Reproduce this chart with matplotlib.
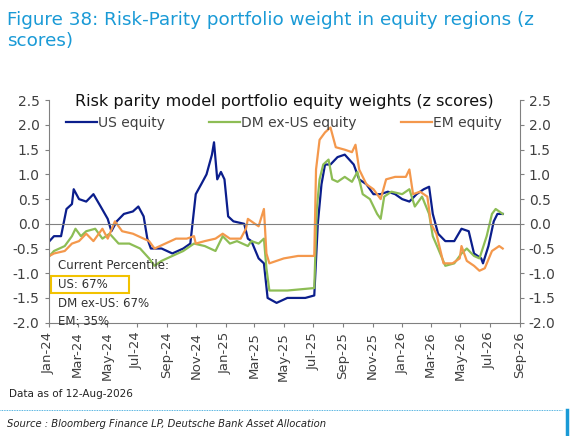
import datetime as dt

import matplotlib
matplotlib.use("Agg")
import matplotlib.pyplot as plt
import matplotlib.dates as mdates
from matplotlib.patches import Rectangle

# months since Jan-24, value
US_M = [-0.24, 0.37, 0.85, 1.22, 1.59, 1.71, 2.07, 2.56, 3.05, 3.54, 4.02, 4.27, 4.63, 5.12, 5.73,
        6.10, 6.46, 6.71, 6.95, 7.68, 8.41, 9.15, 9.63, 10.0, 10.37, 10.73, 11.1, 11.24, 11.46,
        11.71, 11.95, 12.2, 12.56, 13.29, 13.54, 13.78, 14.27, 14.63, 14.88, 15.49, 16.22, 17.44,
        18.05, 18.29, 18.54, 18.78, 19.15, 19.63, 20.12, 20.73, 21.1, 21.59, 22.07, 22.56, 23.05,
        23.54, 24.02, 24.51, 25.0, 25.49, 25.85, 26.1, 26.46, 26.95, 27.56, 28.05, 28.54, 28.9,
        29.39, 29.51, 29.88, 30.24, 30.49, 30.85]
US_V = [-0.45, -0.25, -0.25, 0.3, 0.4, 0.7, 0.5, 0.45, 0.6, 0.35, 0.1, -0.15, 0.05, 0.2, 0.25,
        0.35, 0.15, -0.3, -0.5, -0.5, -0.6, -0.5, -0.4, 0.6, 0.8, 1.0, 1.4, 1.65, 0.9,
        1.05, 0.9, 0.15, 0.05, 0.0, -0.3, -0.35, -0.7, -0.8, -1.5, -1.6, -1.5, -1.5,
        -1.45, 0.0, 0.8, 1.2, 1.2, 1.35, 1.4, 1.2, 0.9, 0.8, 0.6, 0.6, 0.65,
        0.6, 0.5, 0.45, 0.6, 0.7, 0.75, 0.2, -0.2, -0.35, -0.35, -0.1, -0.15, -0.6,
        -0.7, -0.8, -0.45, 0.05, 0.2, 0.2]

DM_M = [-0.24, 0.37, 1.1, 1.59, 1.83, 2.2, 2.56, 3.17, 3.66, 4.15, 4.76, 5.49, 6.22, 6.83, 7.2,
        7.68, 8.41, 9.15, 9.88, 10.61, 11.34, 11.83, 12.32, 12.8, 13.54, 13.78, 14.27, 14.63,
        14.8, 15.0, 16.22, 18.05, 18.22, 18.41, 18.66, 19.02, 19.27, 19.63, 20.12, 20.61, 20.98,
        21.34, 21.83, 22.32, 22.56, 22.8, 23.29, 24.02, 24.51, 24.88, 25.37, 25.85, 26.1, 26.46,
        26.95, 27.56, 28.05, 28.41, 28.9, 29.27, 29.76, 30.12, 30.37, 30.85]
DM_V = [-0.75, -0.55, -0.45, -0.25, -0.1, -0.25, -0.15, -0.1, -0.3, -0.2, -0.4, -0.4, -0.5, -0.7, -0.85,
        -0.75, -0.65, -0.55, -0.4, -0.45, -0.55, -0.25, -0.4, -0.35, -0.45, -0.35, -0.4, -0.3,
        -0.9, -1.35, -1.35, -1.3, 0.3, 0.9, 1.2, 1.3, 0.9, 0.85, 0.95, 0.85, 1.05,
        0.6, 0.5, 0.2, 0.1, 0.55, 0.65, 0.6, 0.7, 0.35, 0.55, 0.2, -0.25, -0.5,
        -0.85, -0.8, -0.6, -0.5, -0.65, -0.7, -0.25, 0.2, 0.3, 0.2]

EM_M = [-0.24, 0.37, 1.1, 1.59, 2.07, 2.56, 3.05, 3.66, 4.02, 4.51, 5.0, 5.73, 6.46, 6.83, 7.2,
        7.93, 8.66, 9.39, 9.88, 10.0, 10.61, 11.34, 11.83, 12.32, 13.05, 13.41, 13.54, 14.02,
        14.27, 14.63, 14.8, 15.0, 15.98, 16.95, 18.05, 18.17, 18.41, 18.78, 19.15, 19.51, 20.12,
        20.61, 20.85, 21.1, 21.59, 22.07, 22.56, 22.93, 23.54, 24.27, 24.51, 24.76, 25.24, 25.73,
        25.98, 26.34, 26.83, 27.44, 27.93, 28.05, 28.41, 28.9, 29.27, 29.63, 30.12, 30.61, 30.85]
EM_V = [-0.7, -0.6, -0.55, -0.4, -0.35, -0.2, -0.35, -0.1, -0.3, 0.05, -0.15, -0.2, -0.3, -0.35, -0.5,
        -0.4, -0.3, -0.3, -0.25, -0.4, -0.35, -0.3, -0.2, -0.3, -0.3, -0.1, 0.1, 0.0,
        -0.05, 0.3, -0.6, -0.8, -0.7, -0.65, -0.65, 1.1, 1.7, 1.85, 1.95, 1.55, 1.5,
        1.45, 1.6, 1.1, 0.8, 0.7, 0.5, 0.9, 0.95, 0.95, 1.1, 0.6, 0.65, 0.55,
        0.0, -0.2, -0.8, -0.8, -0.7, -0.45, -0.75, -0.85, -0.95, -0.9, -0.55, -0.45, -0.5]

BASE = dt.datetime(2024, 1, 1)


def to_dates(months):
    return [BASE + dt.timedelta(days=m * 30.44) for m in months]


fig = plt.figure(figsize=(5.71, 4.36), dpi=100)
fig.text(0.012, 0.975, "Figure 38: Risk-Parity portfolio weight in equity regions (z\nscores)",
         color="#1a9ad6", fontsize=13.2, va="top", ha="left", linespacing=1.25)

ax = fig.add_axes([0.085, 0.26, 0.825, 0.51])
ax.plot(to_dates(US_M), US_V, color="#0b1e8c", lw=1.6, label="US equity")
ax.plot(to_dates(DM_M), DM_V, color="#8dbd55", lw=1.6, label="DM ex-US equity")
ax.plot(to_dates(EM_M), EM_V, color="#f4984c", lw=1.6, label="EM equity")
ax.axhline(0, color="#808080", lw=0.8)

ax.set_ylim(-2.0, 2.5)
ax.set_yticks([-2.0, -1.5, -1.0, -0.5, 0.0, 0.5, 1.0, 1.5, 2.0, 2.5])
ax.yaxis.set_major_formatter(plt.FormatStrFormatter("%.1f"))
ax.set_xlim(dt.datetime(2024, 1, 1), dt.datetime(2026, 9, 1))
ax.xaxis.set_major_locator(mdates.MonthLocator(bymonth=[1, 3, 5, 7, 9, 11]))
ax.xaxis.set_major_formatter(mdates.DateFormatter("%b-%y"))
plt.setp(ax.get_xticklabels(), rotation=90)
for s in ["top", "right"]:
    ax.spines[s].set_visible(False)
for s in ["left", "bottom"]:
    ax.spines[s].set_color("#808080")
ax.tick_params(colors="#404040", labelsize=10, length=3, color="#808080")
ax.tick_params(axis="x", labelsize=9.5)

ax2 = ax.twinx()
ax2.set_ylim(ax.get_ylim())
ax2.set_yticks(ax.get_yticks())
ax2.yaxis.set_major_formatter(plt.FormatStrFormatter("%.1f"))
for s in ["top", "left", "bottom"]:
    ax2.spines[s].set_visible(False)
ax2.spines["right"].set_color("#808080")
ax2.tick_params(colors="#404040", labelsize=10, length=3, color="#808080")

ax.text(0.5, 0.995, "Risk parity model portfolio equity weights (z scores)", transform=ax.transAxes,
        fontsize=11.5, color="#111111", ha="center", va="center")
ax.legend(loc="center", bbox_to_anchor=(0.5, 0.9), ncol=3, frameon=False, fontsize=10,
          handlelength=2.2, handletextpad=0.1, columnspacing=3.2, labelcolor="#404040",
          borderpad=0, borderaxespad=0)

ax.text(0.02, 0.24, "Current Percentile:", transform=ax.transAxes, fontsize=8.5, color="#333333")
ax.text(0.02, 0.155, "US: 67%", transform=ax.transAxes, fontsize=8.5, color="#333333")
ax.add_patch(Rectangle((0.005, 0.135), 0.165, 0.075, transform=ax.transAxes, fill=False,
                       edgecolor="#f2c200", lw=1.5))
ax.text(0.02, 0.07, "DM ex-US: 67%", transform=ax.transAxes, fontsize=8.5, color="#333333")
ax.text(0.02, -0.01, "EM: 35%", transform=ax.transAxes, fontsize=8.5, color="#333333")

fig.text(0.015, 0.09, "Data as of 12-Aug-2026", fontsize=7.5, color="#222222")
fig.add_artist(plt.Line2D([0.0, 0.985], [0.06, 0.06], color="#1a9ad6", lw=0.6, ls=(0, (1, 1))))
fig.text(0.012, 0.02, "Source : Bloomberg Finance LP, Deutsche Bank Asset Allocation", fontsize=7.2,
         style="italic", color="#222222")
fig.add_artist(plt.Line2D([0.993, 0.993], [0.0, 0.06], color="#1a9ad6", lw=2.5))

fig.savefig("out.png", dpi=100)
